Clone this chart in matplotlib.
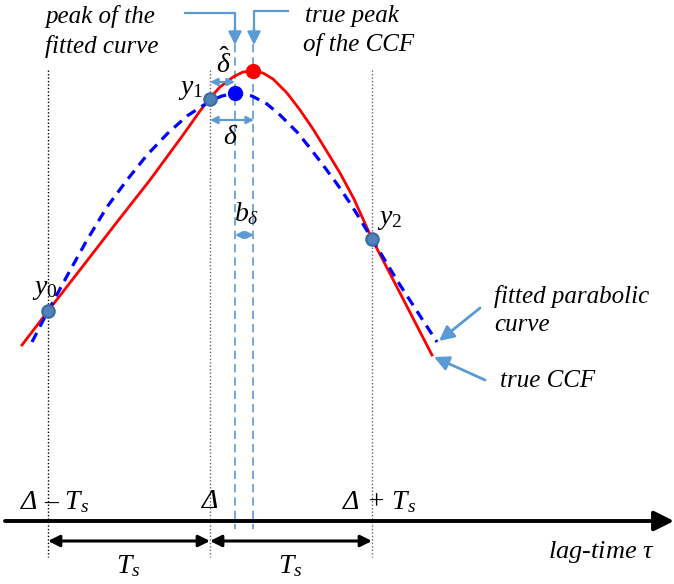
"""Diagram: parabolic peak fitting of a cross-correlation function (CCF)."""

import matplotlib

matplotlib.use("Agg")
import matplotlib.pyplot as plt

plt.rcParams["mathtext.fontset"] = "custom"
plt.rcParams["mathtext.rm"] = "Liberation Serif"
plt.rcParams["mathtext.it"] = "Liberation Serif:italic"
plt.rcParams["font.family"] = ["Liberation Serif", "DejaVu Serif"]

# curves (pixel frame, y grows downward)
true_ccf_x = [22, 48, 83, 117, 150, 183, 200, 210, 220, 233, 243, 252, 263,
              273, 287, 300, 313, 326, 340, 354, 372, 400, 432]
true_ccf_y = [345, 311, 266, 222, 180, 135, 111, 98, 87, 77, 72, 71, 73,
              79, 93, 110, 129, 150, 173, 199, 239, 293, 355]
fitted_x = [32, 48, 67, 87, 107, 127, 147, 167, 187, 210, 222, 235, 252,
            267, 280, 297, 310, 323, 337, 350, 360, 372, 400, 437]
fitted_y = [342, 311, 276, 240, 207, 180, 155, 134, 116, 101, 96, 93, 96,
            104, 115, 132, 148, 165, 184, 203, 219, 239, 285, 342]

# samples y0, y1, y2 and the two peaks
sample_x = [48, 210, 372]
sample_y = [311, 99, 239]
sample_labels = ["$y_0$", "$y_1$", "$y_2$"]
true_peak = (253, 71)
fitted_peak = (235, 93)

# lag positions
lag_x = [48, 210, 372]
lag_labels = ["Δ – $T_s$", "Δ", "Δ + $T_s$"]

BLUE = "#5b9bd5"
W, H = 674, 584

fig = plt.figure(figsize=(W / 100, H / 100), dpi=100)
ax = fig.add_axes([0, 0, 1, 1])
ax.set_xlim(0, W)
ax.set_ylim(H, 0)
ax.axis("off")

# vertical guides
for i, x in enumerate(lag_x):
    ax.plot([x, x], [70, 557], color="black" if i == 0 else "#666666",
            lw=1, ls=(0, (1, 1.5)))
for x in (fitted_peak[0], true_peak[0]):
    ax.plot([x, x], [44, 529], color=BLUE, lw=1.2, ls=(0, (5, 3)))

# curves
ax.plot(true_ccf_x, true_ccf_y, color="red", lw=2.0, solid_joinstyle="round")
ax.plot(fitted_x, fitted_y, color="blue", lw=2.3, ls=(0, (3.2, 2.2)))

ax.plot(*true_peak, "o", color="red", ms=10, zorder=5)
ax.plot(*fitted_peak, "o", color="blue", ms=10, zorder=5)
ax.plot(sample_x, sample_y, "o", color="#4f81bd", mec="#3c6a9a", mew=1.5,
        ms=9, zorder=5)

txt = dict(fontsize=18, style="italic")
for (x, y), lab, (dx, dy) in zip(zip(sample_x, sample_y), sample_labels,
                                 [(-3, -21), (-19, -10), (18, -19)]):
    ax.text(x + dx, y + dy, lab, ha="center", va="center", fontsize=20)


def arrow(p0, p1, style="-|>", color=BLUE, lw=1.6, ms=14):
    ax.annotate("", xy=p1, xytext=p0,
                arrowprops=dict(arrowstyle=style, color=color, lw=lw,
                                mutation_scale=ms, shrinkA=0, shrinkB=0))


# callouts at the top
ax.plot([185, 235, 235], [13, 13, 30], color=BLUE, lw=1.6)
arrow((235, 28), (235, 45), ms=20)
ax.plot([288, 254, 254], [11, 11, 30], color=BLUE, lw=1.6)
arrow((254, 28), (254, 45), ms=20)
ax.text(45, 17, "peak of the", va="center", **txt)
ax.text(45, 46, "fitted curve", va="center", **txt)
ax.text(305, 16, "true peak", va="center", **txt)
ax.text(303, 45, "of the CCF", va="center", **txt)

# offsets
arrow((210, 82), (235, 82), style="<|-|>", ms=11)
arrow((210, 120), (254, 120), style="<|-|>", ms=11)
arrow((235, 235), (254, 235), style="<|-|>", ms=11)
ax.text(224, 64, r"$\hat{\delta}$", ha="center", va="center", fontsize=20)
ax.text(231, 138, r"$\delta$", ha="center", va="center", fontsize=20)
ax.text(247, 214, r"$b_\delta$", ha="center", va="center", fontsize=20)

# curve labels
arrow((480, 308), (439, 341), ms=22, lw=2)
arrow((485, 380), (434, 357), ms=22, lw=2)
ax.text(494, 297, "fitted parabolic", va="center", **txt)
ax.text(494, 325, "curve", va="center", **txt)
ax.text(500, 381, "true CCF", va="center", **txt)

# lag axis
arrow((5, 521), (674, 521), color="black", lw=2.8, ms=30)
arrow((48, 541), (210, 541), style="<|-|>", color="black", lw=2.2, ms=17)
arrow((210, 541), (372, 541), style="<|-|>", color="black", lw=2.2, ms=17)
for x, lab, dx in zip(lag_x, lag_labels, [7, 0, 7]):
    ax.text(x + dx, 502, lab, ha="center", va="center", fontsize=20,
            style="italic")
ax.text(128, 566, "$T_s$", ha="center", va="center", fontsize=20)
ax.text(290, 566, "$T_s$", ha="center", va="center", fontsize=20)
ax.text(548, 552, r"lag-time $\tau$", va="center", fontsize=19,
        style="italic")

fig.savefig("out.png", dpi=100)
